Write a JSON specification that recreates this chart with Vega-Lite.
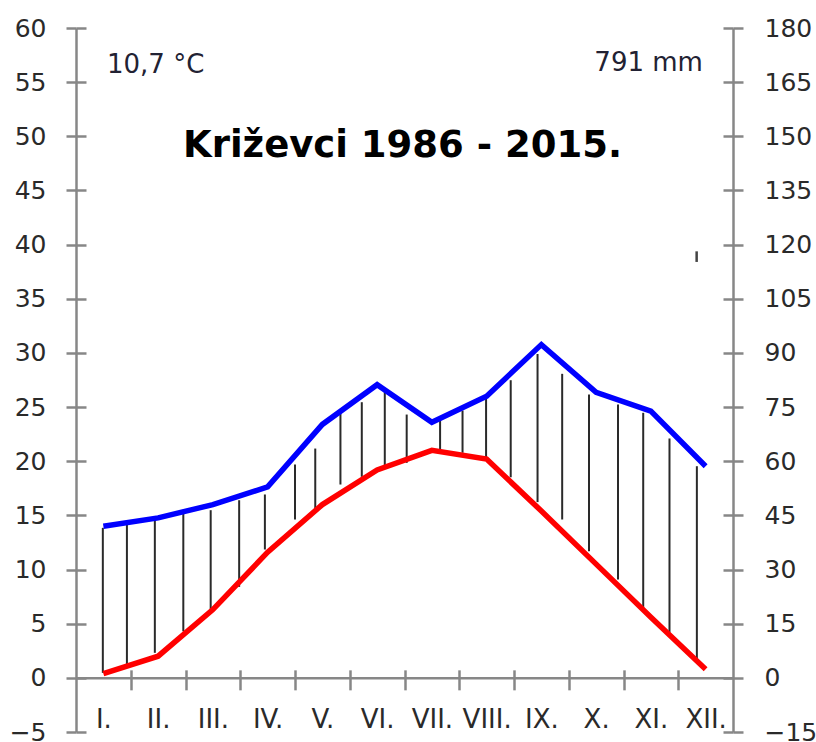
{
  "$schema": "https://vega.github.io/schema/vega-lite/v6.json",
  "width": 657,
  "height": 704,
  "autosize": {"type": "none"},
  "padding": {"left": 76, "top": 28, "right": 83, "bottom": 10},
  "background": "white",
  "config": {
    "view": {"stroke": null},
    "font": "DejaVu Sans",
    "axis": {
      "grid": false,
      "domainColor": "#878787",
      "domainWidth": 2.5,
      "tickColor": "#878787",
      "tickWidth": 2.5,
      "labelFont": "DejaVu Sans",
      "labelFontSize": 25,
      "labelColor": "#2a2a2a",
      "labelFlush": false,
      "labelOverlap": false,
      "labelBound": false,
      "title": null
    }
  },
  "datasets": {
    "months": [
      {"m": 1, "t": 0.4, "p": 42.0},
      {"m": 2, "t": 2.0, "p": 44.3},
      {"m": 3, "t": 6.3, "p": 48.0},
      {"m": 4, "t": 11.6, "p": 52.9},
      {"m": 5, "t": 16.0, "p": 70.2},
      {"m": 6, "t": 19.2, "p": 81.2},
      {"m": 7, "t": 21.0, "p": 70.8},
      {"m": 8, "t": 20.2, "p": 78.0},
      {"m": 9, "t": 15.4, "p": 92.3},
      {"m": 10, "t": 10.5, "p": 79.1},
      {"m": 11, "t": 5.6, "p": 73.9},
      {"m": 12, "t": 0.8, "p": 58.6}
    ],
    "hatch": [
      {"m": 0.99, "lo": 0.46, "hi": 13.85},
      {"m": 1.43, "lo": 1.23, "hi": 14.37},
      {"m": 1.94, "lo": 2.31, "hi": 14.62},
      {"m": 2.46, "lo": 4.3, "hi": 15.14},
      {"m": 2.96, "lo": 6.31, "hi": 15.48},
      {"m": 3.48, "lo": 8.4, "hi": 16.4},
      {"m": 3.95, "lo": 11.85, "hi": 16.93},
      {"m": 4.5, "lo": 14.62, "hi": 19.7},
      {"m": 4.87, "lo": 15.38, "hi": 21.17},
      {"m": 5.33, "lo": 17.85, "hi": 24.47},
      {"m": 5.72, "lo": 18.56, "hi": 25.45},
      {"m": 6.14, "lo": 19.6, "hi": 26.46},
      {"m": 6.54, "lo": 19.85, "hi": 24.31},
      {"m": 7.15, "lo": 20.92, "hi": 23.79},
      {"m": 7.56, "lo": 20.78, "hi": 24.68},
      {"m": 7.99, "lo": 20.31, "hi": 25.79},
      {"m": 8.44, "lo": 18.52, "hi": 27.48},
      {"m": 8.93, "lo": 16.23, "hi": 29.9},
      {"m": 9.38, "lo": 14.62, "hi": 28.07},
      {"m": 9.87, "lo": 11.69, "hi": 26.16},
      {"m": 10.4, "lo": 9.08, "hi": 25.24},
      {"m": 10.86, "lo": 6.46, "hi": 24.47},
      {"m": 11.34, "lo": 4.21, "hi": 22.1},
      {"m": 11.84, "lo": 1.69, "hi": 19.54}
    ]
  },
  "layer": [
    {
      "data": {"name": "hatch"},
      "mark": {"type": "rule", "color": "#2a2a2a", "strokeWidth": 2},
      "encoding": {
        "x": {"field": "m", "type": "quantitative",
          "scale": {"domain": [0.5, 12.5], "nice": false, "zero": false},
          "axis": {"orient": "bottom", "offset": -54.15, "values": [1.5, 2.5, 3.5, 4.5, 5.5, 6.5, 7.5, 8.5, 9.5, 10.5, 11.5], "tickSize": 12, "labels": false, "domain": true}},
        "y": {"field": "lo", "type": "quantitative",
          "scale": {"domain": [-5, 60], "nice": false, "zero": false},
          "axis": {"orient": "left", "values": [-5, 0, 5, 10, 15, 20, 25, 30, 35, 40, 45, 50, 55, 60], "tickSize": 10, "labelPadding": 20}},
        "y2": {"field": "hi"}
      }
    },
    {
      "data": {"name": "months"},
      "mark": {"type": "line", "color": "#FF0000", "strokeWidth": 5.5},
      "encoding": {
        "x": {"field": "m", "type": "quantitative",
          "scale": {"domain": [0.5, 12.5], "nice": false, "zero": false},
          "axis": {"orient": "bottom", "offset": -54.15, "values": [1, 2, 3, 4, 5, 6, 7, 8, 9, 10, 11, 12], "ticks": false, "tickSize": 0, "domain": false, "labelPadding": 29, "labelFontSize": 26,
            "labelExpr": "['I.','II.','III.','IV.','V.','VI.','VII.','VIII.','IX.','X.','XI.','XII.'][datum.value-1]"}},
        "y": {"field": "t", "type": "quantitative",
          "scale": {"domain": [-5, 60], "nice": false, "zero": false},
          "axis": {"orient": "left", "offset": -10, "values": [-5, 0, 5, 10, 15, 20, 25, 30, 35, 40, 45, 50, 55, 60], "tickSize": 10, "labels": false, "domain": false}}
      }
    },
    {
      "data": {"name": "months"},
      "mark": {"type": "line", "color": "#0000FF", "strokeWidth": 5.5},
      "encoding": {
        "x": {"field": "m", "type": "quantitative",
          "scale": {"domain": [0.5, 12.5], "nice": false, "zero": false},
          "axis": {"orient": "bottom", "offset": -62.15, "values": [1.5, 2.5, 3.5, 4.5, 5.5, 6.5, 7.5, 8.5, 9.5, 10.5, 11.5], "tickSize": 8, "labels": false, "domain": false}},
        "y": {"field": "p", "type": "quantitative",
          "scale": {"domain": [-15, 180], "nice": false, "zero": false},
          "axis": {"orient": "right", "values": [-15, 0, 15, 30, 45, 60, 75, 90, 105, 120, 135, 150, 165, 180], "tickSize": 10, "labelPadding": 21}}
      }
    },
    {
      "data": {"values": [{"label": "791 mm"}]},
      "mark": {"type": "text", "align": "right", "baseline": "alphabetic", "fontSize": 26, "color": "#222233", "font": "DejaVu Sans"},
      "encoding": {
        "text": {"field": "label"},
        "x": {"datum": 11.95, "type": "quantitative", "scale": {"domain": [0.5, 12.5], "nice": false, "zero": false}, "axis": null},
        "y": {"datum": 168, "type": "quantitative",
          "scale": {"domain": [-15, 180], "nice": false, "zero": false},
          "axis": {"orient": "right", "offset": -10, "values": [-15, 0, 15, 30, 45, 60, 75, 90, 105, 120, 135, 150, 165, 180], "tickSize": 10, "labels": false, "domain": false}}
      }
    },
    {
      "data": {"values": [{"label": "10,7 °C"}]},
      "mark": {"type": "text", "align": "left", "baseline": "alphabetic", "fontSize": 26, "color": "#222233", "font": "DejaVu Sans"},
      "encoding": {
        "text": {"field": "label"},
        "x": {"datum": 1.066, "type": "quantitative", "scale": {"domain": [0.5, 12.5], "nice": false, "zero": false}, "axis": null},
        "y": {"datum": 55.8, "type": "quantitative", "scale": {"domain": [-5, 60], "nice": false, "zero": false}, "axis": null}
      }
    },
    {
      "data": {"values": [{"label": "Križevci 1986 - 2015."}]},
      "mark": {"type": "text", "align": "center", "baseline": "alphabetic", "fontSize": 37, "fontWeight": "bold", "color": "#000000", "font": "DejaVu Sans"},
      "encoding": {
        "text": {"field": "label"},
        "x": {"datum": 6.463, "type": "quantitative", "scale": {"domain": [0.5, 12.5], "nice": false, "zero": false}, "axis": null},
        "y": {"datum": 48.13, "type": "quantitative", "scale": {"domain": [-5, 60], "nice": false, "zero": false}, "axis": null}
      }
    },
    {
      "data": {"values": [{"label": "mark"}]},
      "mark": {"type": "rule", "color": "#444444", "strokeWidth": 2.5},
      "encoding": {
        "x": {"datum": 11.836, "type": "quantitative", "scale": {"domain": [0.5, 12.5], "nice": false, "zero": false}, "axis": null},
        "y": {"datum": 38.4, "type": "quantitative", "scale": {"domain": [-5, 60], "nice": false, "zero": false}, "axis": null},
        "y2": {"datum": 39.38}
      }
    }
  ],
  "resolve": {"scale": {"y": "independent"}, "axis": {"x": "independent", "y": "independent"}}
}
